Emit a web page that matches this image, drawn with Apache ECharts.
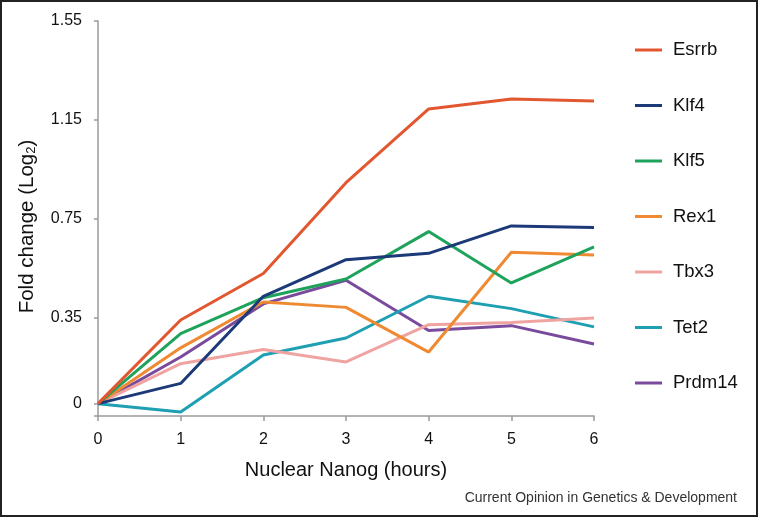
<!DOCTYPE html>
<html>
<head>
<meta charset="utf-8">
<script src="https://cdn.jsdelivr.net/npm/echarts@6/dist/echarts.min.js"></script>
<style>
html,body{margin:0;padding:0;background:#fff;}
#wrap{position:relative;width:758px;height:517px;box-sizing:border-box;border:2px solid #222;}
#c{position:absolute;left:-2px;top:-2px;width:758px;height:517px;}
</style>
</head>
<body>
<div id="wrap"><div id="c"></div></div>
<script>
const hours = [0, 1, 2, 3, 4, 5, 6];
const yTicks = [0, 0.35, 0.75, 1.15, 1.55];
const esrrb  = [0, 0.339, 0.527, 0.895, 1.194, 1.234, 1.226];
const klf4   = [0, 0.082, 0.435, 0.583, 0.609, 0.720, 0.714];
const klf5   = [0, 0.284, 0.429, 0.505, 0.697, 0.489, 0.635];
const rex1   = [0, 0.226, 0.412, 0.390, 0.209, 0.613, 0.602];
const tbx3   = [0, 0.162, 0.219, 0.169, 0.320, 0.329, 0.347];
const tet2   = [0, -0.034, 0.197, 0.266, 0.435, 0.385, 0.311];
const prdm14 = [0, 0.189, 0.404, 0.500, 0.296, 0.316, 0.242];

const names = ['Esrrb','Klf4','Klf5','Rex1','Tbx3','Tet2','Prdm14'];
const values = [esrrb, klf4, klf5, rex1, tbx3, tet2, prdm14];
const colors = ['#E2572F','#1D3A78','#1FA35C','#EF8A32','#F0A4A2','#1E9FB2','#7A4B9C'];

const FONT = '"Liberation Sans", Arial, Helvetica, sans-serif';
const chart = echarts.init(document.getElementById('c'));
chart.setOption({
  animation: false,
  backgroundColor: 'transparent',
  textStyle: { fontFamily: FONT },
  grid: { left: 98, right: 164, top: 21, bottom: 101, containLabel: false },
  xAxis: {
    type: 'value', min: 0, max: 6, interval: 1,
    name: 'Nuclear Nanog (hours)', nameLocation: 'middle', nameGap: 44,
    nameTextStyle: { fontSize: 20, color: '#111', fontFamily: FONT },
    axisLine: { onZero: false, lineStyle: { color: '#9a9a9a', width: 1.5 } },
    axisTick: { show: true, length: 5, lineStyle: { color: '#9a9a9a', width: 1.5 } },
    axisLabel: { fontSize: 16, color: '#111', margin: 16, fontFamily: FONT },
    splitLine: { show: false }
  },
  yAxis: {
    type: 'value', min: -0.05, max: 1.55,
    name: '{a|Fold change (Log}{s|2}{a|)}', nameLocation: 'middle', nameGap: 60,
    nameTextStyle: {
      fontFamily: FONT,
      padding: [0, 16, 0, 0],
      rich: {
        a: { fontSize: 20.5, color: '#111', fontFamily: FONT },
        s: { fontSize: 13, color: '#111', fontFamily: FONT, verticalAlign: 'bottom', padding: [9, 0, 0, 0] }
      }
    },
    axisLine: { show: true, lineStyle: { color: '#9a9a9a', width: 1.5 } },
    axisTick: { show: true, length: 4, customValues: [-0.05].concat(yTicks), lineStyle: { color: '#9a9a9a', width: 1.5 } },
    axisLabel: { fontSize: 16, color: '#111', margin: 16, customValues: yTicks, fontFamily: FONT,
      formatter: v => String(Math.round(v * 100) / 100) },
    splitLine: { show: false }
  },
  legend: {
    orient: 'vertical', left: 630, top: 35,
    itemWidth: 27, itemHeight: 3, itemGap: 35.5,
    icon: 'rect',
    textStyle: { fontSize: 18.5, color: '#111', lineHeight: 20, padding: [0, 0, 0, 6], fontFamily: FONT },
    data: names
  },
  graphic: [{
    type: 'text', right: 21, top: 491,
    style: { text: 'Current Opinion in Genetics & Development', fontSize: 14, fill: '#333', fontFamily: FONT }
  }],
  series: names.map((n, i) => ({
    name: n, type: 'line',
    data: hours.map((h, j) => [h, values[i][j]]),
    showSymbol: false, symbol: 'none',
    lineStyle: { width: 3, color: colors[i] },
    itemStyle: { color: colors[i] },
    z: 10 - i
  }))
});
</script>
</body>
</html>
